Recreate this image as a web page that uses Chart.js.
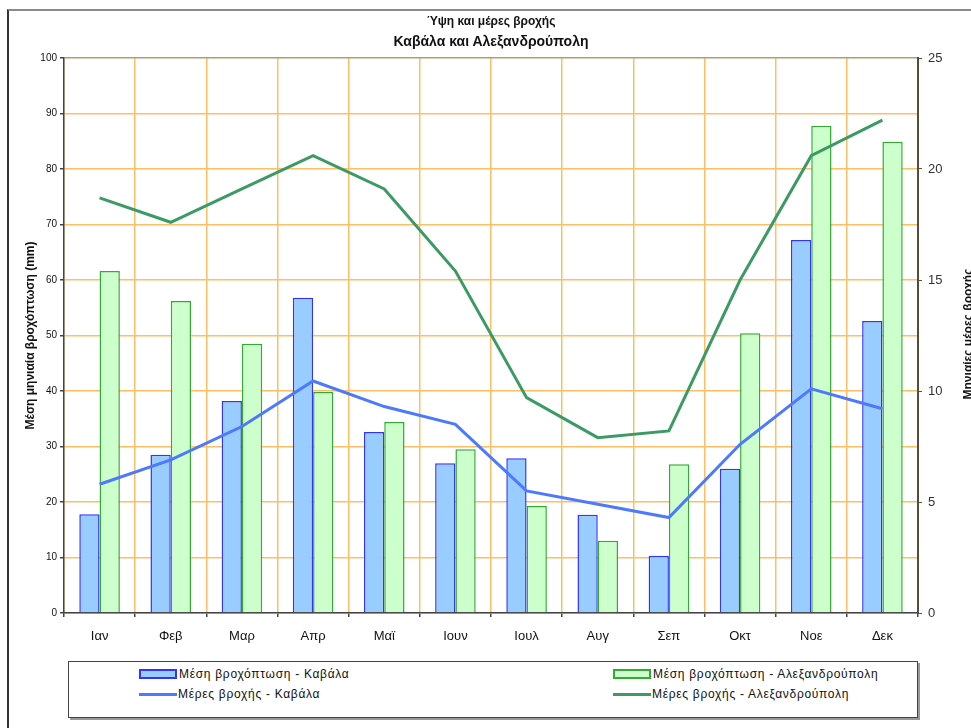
<!DOCTYPE html>
<html>
<head>
<meta charset="utf-8">
<script src="https://cdn.jsdelivr.net/npm/chart.js@4"></script>
<style>
    body { margin: 0; width: 971px; height: 728px; overflow: hidden; background: #fff; font-family: "Liberation Sans", Arial, sans-serif; position: relative; }
    #frame { position: absolute; left: 7px; top: 9px; width: 1000px; height: 800px; border-top: 2px solid #8a8a8a; border-left: 2px solid #333; }
    #t1 { position: absolute; left: 0; width: 982px; top: 14px; text-align: center; font-weight: bold; font-size: 12px; color: #111; }
    #t2 { position: absolute; left: 0; width: 982px; top: 33px; text-align: center; font-weight: bold; font-size: 14px; color: #111; }
    #t3 { position: absolute; left: 888px; width: 160px; top: 327px; text-align: center; font-weight: bold; font-size: 12px; color: #111; transform: rotate(-90deg); }
    #wrap { position: absolute; left: 0; top: 0; width: 990px; height: 650px; }
    #legend { position: absolute; left: 68px; top: 661px; width: 848px; height: 55px; border: 1px solid #444; box-shadow: 2px 2px 0 #999; font-size: 12px; letter-spacing: 0.7px; color: #111; }
    .item { position: absolute; display: flex; align-items: center; }
    .bar { width: 34px; height: 6px; border: 2px solid; margin-right: 2px; }
    .ln { width: 38px; height: 3px; margin-right: 1px; }
</style>
</head>
<body>
<div id="frame"></div>
<div id="wrap"><canvas id="myChart" width="990" height="650"></canvas></div>
<div id="t1">Ύψη και μέρες βροχής</div>
<div id="t2">Καβάλα και Αλεξανδρούπολη</div>
<div id="t3">Μηνιαίες μέρες βροχής</div>
<div id="legend">
    <div class="item" style="left:70px; top:5px"><span class="bar" style="background:#99ccff; border-color:#3333ff"></span>Μέση βροχόπτωση - Καβάλα</div>
    <div class="item" style="left:544px; top:5px"><span class="bar" style="background:#ccffcc; border-color:#33aa33"></span>Μέση βροχόπτωση - Αλεξανδρούπολη</div>
    <div class="item" style="left:70px; top:25px"><span class="ln" style="background:#4d79ff"></span>Μέρες βροχής - Καβάλα</div>
    <div class="item" style="left:544px; top:25px"><span class="ln" style="background:#3c9a64"></span>Μέρες βροχής - Αλεξανδρούπολη</div>
</div>
<script>
const months = ["Ιαν", "Φεβ", "Μαρ", "Απρ", "Μαϊ", "Ιουν", "Ιουλ", "Αυγ", "Σεπ", "Οκτ", "Νοε", "Δεκ"];
const rainKavala = [17.8, 28.5, 38.2, 56.8, 32.6, 27.0, 27.9, 17.7, 10.3, 26.0, 67.2, 52.6];
const rainAlex = [61.6, 56.2, 48.5, 39.8, 34.4, 29.5, 19.3, 13.0, 26.8, 50.4, 87.8, 84.9];
const daysKavala = [5.8, 6.9, 8.4, 10.45, 9.3, 8.5, 5.5, 4.9, 4.3, 7.6, 10.1, 9.2];
const daysAlex = [18.7, 17.6, 19.1, 20.6, 19.1, 15.4, 9.7, 7.9, 8.2, 15.0, 20.6, 22.2];

const orange = "#ffbe66";
Chart.defaults.font.family = "'Liberation Sans', Arial, sans-serif";
Chart.defaults.color = "#222";

const ctx = document.getElementById("myChart");
new Chart(ctx, {
    type: "bar",
    data: {
        labels: months,
        datasets: [
            {
                type: "line",
                label: "Μέρες βροχής - Καβάλα",
                data: daysKavala,
                yAxisID: "y1",
                borderColor: "#4d79ff",
                borderWidth: 3,
                pointRadius: 0,
                order: 0,
            },
            {
                type: "line",
                label: "Μέρες βροχής - Αλεξανδρούπολη",
                data: daysAlex,
                yAxisID: "y1",
                borderColor: "#3c9a64",
                borderWidth: 3,
                pointRadius: 0,
                order: 0,
            },
            {
                label: "Μέση βροχόπτωση - Καβάλα",
                data: rainKavala,
                yAxisID: "y",
                backgroundColor: "#99ccff",
                borderColor: "#3333ff",
                borderWidth: 1.5,
                categoryPercentage: 0.57,
                barPercentage: 1,
                order: 1,
            },
            {
                label: "Μέση βροχόπτωση - Αλεξανδρούπολη",
                data: rainAlex,
                yAxisID: "y",
                backgroundColor: "#ccffcc",
                borderColor: "#33aa33",
                borderWidth: 1.5,
                categoryPercentage: 0.57,
                barPercentage: 1,
                order: 1,
            },
        ],
    },
    options: {
        responsive: false,
        animation: false,
        layout: { padding: { top: 58, left: 0, right: 0, bottom: 0 } },
        plugins: {
            legend: { display: false },
            tooltip: { enabled: false },
        },
        scales: {
            x: {
                grid: { color: orange, lineWidth: 1.5, offset: true, tickColor: "#444", tickLength: 4 },
                border: { color: "#444", width: 1.5 },
                ticks: { font: { size: 13 }, padding: 12, color: "#111", maxRotation: 0 },
                afterFit: (s) => { s.height = 37; },
            },
            y: {
                min: 0,
                max: 100,
                ticks: { stepSize: 10, font: { size: 10 }, padding: 3, color: "#111" },
                grid: {
                    color: (c) => (c.tick && c.tick.value === 100 ? "#b89a70" : orange),
                    lineWidth: 1.5,
                    tickColor: "#444",
                    tickLength: 4,
                },
                border: { color: "#444", width: 1.5 },
                title: {
                    display: true,
                    text: "Μέση μηνιαία βροχόπτωση (mm)",
                    font: { size: 12, weight: "bold" },
                    color: "#111",
                    padding: { top: 23, bottom: 0 },
                },
                afterFit: (s) => { s.width = 64; },
            },
            y1: {
                position: "right",
                min: 0,
                max: 25,
                ticks: { stepSize: 5, font: { size: 13 }, padding: 6, color: "#333" },
                grid: { drawOnChartArea: false, tickColor: "#555", tickLength: 4 },
                border: { color: "#5a4a3a", width: 2 },
                afterFit: (s) => { s.width = 72; },
            },
        },
    },
});
</script>
</body>
</html>
